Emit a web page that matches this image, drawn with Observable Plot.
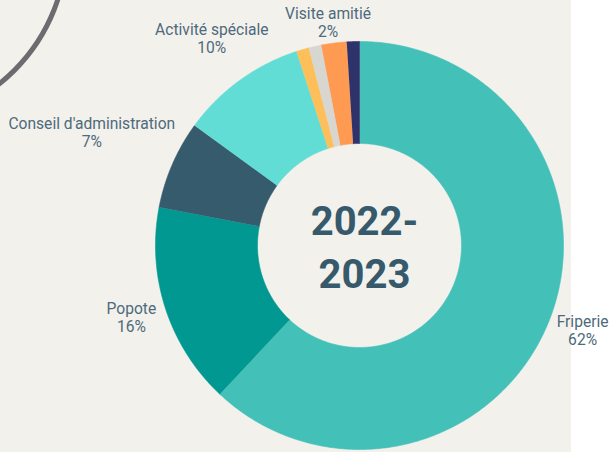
<!DOCTYPE html>
<html><head><meta charset="utf-8">
<script src="https://cdn.jsdelivr.net/npm/d3@7"></script>
<script src="https://cdn.jsdelivr.net/npm/@observablehq/plot@0.6"></script>
<style>
html,body{margin:0;padding:0;background:#fff;}
#wrap{position:relative;width:610px;height:452px;overflow:hidden;font-family:Roboto,sans-serif;}
#panel{position:absolute;left:0;top:0;width:571px;height:452px;background:#f3f1ec;}
#ring{position:absolute;left:-292.5px;top:-236.5px;width:351px;height:351px;border:5px solid #6c6c70;border-radius:50%;}
#chart{position:absolute;left:0;top:0;}
</style></head>
<body><div id="wrap"><div id="panel"></div><div id="ring"></div><div id="chart"></div></div>
<script>
// ---- data ----
const categories = ["Friperie", "Popote", "Conseil d'administration", "Activité spéciale", "Autre 1", "Autre 2", "Visite amitié", "Autre 3"];
const values = [62, 16, 7, 10, 1, 1, 2, 1];
const colors = ["#43c0b8", "#009891", "#365b6d", "#62ddd6", "#fdbf5a", "#d8d6d1", "#ff9a52", "#2f336b"];
const centerTitle = ["2022-", "2023"];

// ---- layout ----
const W = 610, H = 452, cx = 359, cy = 245, R = 204, r0 = 102;
const labelFont = 15.6, labelR = 218, halfH = 17;
const nudge = {
  "Friperie": {deg: 0, r: -4},
  "Popote": {deg: 0, r: -3},
  "Conseil d'administration": {deg: 5, r: 3},
  "Activité spéciale": {deg: 4.5, r: 8},
  "Visite amitié": {deg: 0, r: -10}
};

const total = d3.sum(values);
let acc = 0;
const slices = categories.map((c, i) => {
  const a0 = acc / total * 2 * Math.PI; acc += values[i];
  const a1 = acc / total * 2 * Math.PI;
  return {c, v: values[i], a0, a1, mid: (a0 + a1) / 2};
});
const pts = [];
for (const s of slices) {
  const n = Math.max(2, Math.ceil((s.a1 - s.a0) / (Math.PI / 360)));
  for (let k = 0; k <= n; k++) { const a = s.a0 + (s.a1 - s.a0) * k / n; pts.push({c: s.c, x: Math.sin(a), y: -Math.cos(a)}); }
  for (let k = n; k >= 0; k--) { const a = s.a0 + (s.a1 - s.a0) * k / n; pts.push({c: s.c, x: (r0 / R) * Math.sin(a), y: -(r0 / R) * Math.cos(a)}); }
}
const ctx = document.createElement("canvas").getContext("2d");
ctx.font = `${labelFont}px Roboto`;
const labels = slices.filter(s => s.v >= 2).map(s => {
  const text = `${s.c}\n${s.v}%`;
  const w = Math.max(...text.split("\n").map(t => ctx.measureText(t).width));
  const nd = nudge[s.c] || {deg: 0, r: 0};
  const a = s.mid + nd.deg * Math.PI / 180;
  const L = labelR + nd.r;
  const sx = Math.sin(a), sc = Math.cos(a);
  return {text, x: (L * sx + sx * w / 2) / R, y: (-L * sc - sc * halfH) / R};
});

const plot = Plot.plot({
  width: W, height: H, margin: 0,
  x: {domain: [-cx / R, (W - cx) / R], range: [0, W], axis: null},
  y: {domain: [-cy / R, (H - cy) / R], range: [0, H], axis: null},
  color: {domain: categories, range: colors},
  style: {background: "transparent", fontFamily: "Roboto, sans-serif", overflow: "visible"},
  marks: [
    Plot.line(pts, {x: "x", y: "y", z: "c", fill: "c", stroke: "c", strokeWidth: 0.6}),
    Plot.text(labels, {x: "x", y: "y", text: "text", fontSize: labelFont, lineHeight: 1.13, fill: "#4e6a7b", textAnchor: "middle", lineAnchor: "middle"}),
    Plot.text([centerTitle.join("\n")], {x: () => 0, y: () => 0, text: d => d, fontSize: 40, fontWeight: 700, lineHeight: 1.325, fill: "#365a6b", textAnchor: "middle", lineAnchor: "middle", dx: 5, dy: -1})
  ]
});
document.getElementById("chart").appendChild(plot);
</script>
</body></html>
